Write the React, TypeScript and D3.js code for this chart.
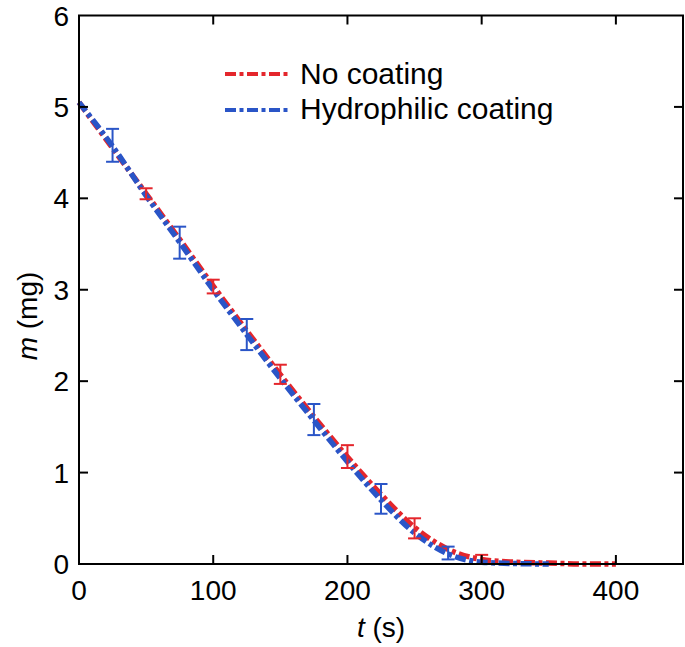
import React from "react";
import * as d3 from "d3";

const xTicks = [0, 100, 200, 300, 400];
const yTicks = [0, 1, 2, 3, 4, 5, 6];

const seriesNames = ["No coating", "Hydrophilic coating"];
const seriesColors = ["#e4262c", "#2a55c7"];

// line samples (t, m)
const redLineT = [0, 25, 50, 75, 100, 125, 150, 175, 200, 225, 250, 275, 300, 325, 350, 375, 400];
const redLineM = [5.05, 4.55, 4.05, 3.55, 3.04, 2.55, 2.07, 1.61, 1.17, 0.76, 0.40, 0.16, 0.05, 0.02, 0.01, 0.0, 0.0];
const blueLineT = [0, 25, 50, 75, 100, 125, 150, 175, 200, 225, 250, 275, 300, 325, 350];
const blueLineM = [5.05, 4.57, 4.03, 3.52, 3.0, 2.51, 2.03, 1.57, 1.12, 0.70, 0.34, 0.11, 0.02, 0.005, 0.0];

// error bars
const redErrT = [50, 100, 150, 200, 250, 300];
const redErrLo = [3.99, 2.96, 1.97, 1.05, 0.28, 0.0];
const redErrHi = [4.11, 3.11, 2.18, 1.30, 0.50, 0.10];
const blueErrT = [25, 75, 125, 175, 225, 275];
const blueErrLo = [4.40, 3.34, 2.34, 1.41, 0.55, 0.05];
const blueErrHi = [4.76, 3.69, 2.68, 1.75, 0.875, 0.19];

const W = 685, H = 647;
const L = 79, R = 683, T = 15.5, B = 564;
const font = "'Liberation Sans', Arial, Helvetica, sans-serif";

export default function App() {
  const x = d3.scaleLinear().domain([0, 450]).range([L, R]);
  const y = d3.scaleLinear().domain([0, 6]).range([B, T]);
  const line = d3.line<[number, number]>().x(d => x(d[0])).y(d => y(d[1])).curve(d3.curveMonotoneX);

  const redPts: [number, number][] = redLineT.map((t, i) => [t, redLineM[i]]);
  const bluePts: [number, number][] = blueLineT.map((t, i) => [t, blueLineM[i]]);
  const dash = "11,3.5,4,3.5";
  const tickLen = 9;
  const cap = 6.5;

  const errs = [
    { t: redErrT, lo: redErrLo, hi: redErrHi, c: seriesColors[0] },
    { t: blueErrT, lo: blueErrLo, hi: blueErrHi, c: seriesColors[1] },
  ];

  return (
    <svg width={W} height={H} style={{ position: "absolute", left: 0, top: 0, background: "#fff" }} fontFamily={font}>
      <rect x={0} y={0} width={W} height={H} fill="#fff" />
      {/* lines */}
      <path d={line(redPts) || ""} fill="none" stroke={seriesColors[0]} strokeWidth={5.5} strokeDasharray={dash} />
      <path d={line(bluePts) || ""} fill="none" stroke={seriesColors[1]} strokeWidth={5.5} strokeDasharray={dash} />
      {/* error bars */}
      {errs.map((e, k) =>
        e.t.map((t, i) => (
          <g key={`${k}-${i}`} stroke={e.c} strokeWidth={2} fill="none">
            <line x1={x(t)} x2={x(t)} y1={y(e.lo[i])} y2={y(e.hi[i])} />
            <line x1={x(t) - cap} x2={x(t) + cap} y1={y(e.lo[i])} y2={y(e.lo[i])} />
            <line x1={x(t) - cap} x2={x(t) + cap} y1={y(e.hi[i])} y2={y(e.hi[i])} />
          </g>
        ))
      )}
      {/* frame */}
      <rect x={L} y={T} width={R - L} height={B - T} fill="none" stroke="#000" strokeWidth={2} />
      {/* ticks */}
      {xTicks.filter(v => v > 0).map(v => (
        <g key={`xt${v}`} stroke="#000" strokeWidth={2}>
          <line x1={x(v)} x2={x(v)} y1={B} y2={B - tickLen} />
          <line x1={x(v)} x2={x(v)} y1={T} y2={T + tickLen} />
        </g>
      ))}
      {yTicks.filter(v => v > 0 && v < 6).map(v => (
        <g key={`yt${v}`} stroke="#000" strokeWidth={2}>
          <line x1={L} x2={L + tickLen} y1={y(v)} y2={y(v)} />
          <line x1={R} x2={R - tickLen} y1={y(v)} y2={y(v)} />
        </g>
      ))}
      {/* tick labels */}
      {xTicks.map(v => (
        <text key={`xl${v}`} x={x(v)} y={600} textAnchor="middle" fontSize={28} fill="#000">{v}</text>
      ))}
      {yTicks.map(v => (
        <text key={`yl${v}`} x={69} y={y(v)} dy="0.36em" textAnchor="end" fontSize={28} fill="#000">{v}</text>
      ))}
      {/* axis labels */}
      <text x={381} y={637} textAnchor="middle" fontSize={28} fill="#000">
        <tspan fontStyle="italic">t</tspan> (s)
      </text>
      <text transform={`translate(37,316) rotate(-90)`} textAnchor="middle" fontSize={28} fill="#000">
        <tspan fontStyle="italic">m</tspan> (mg)
      </text>
      {/* legend */}
      {seriesNames.map((n, i) => (
        <g key={n}>
          <line x1={225} x2={289} y1={74 + i * 36} y2={74 + i * 36} stroke={seriesColors[i]} strokeWidth={4} strokeDasharray={dash} />
          <text x={300} y={84 + i * 35} fontSize={30} fill="#000">{n}</text>
        </g>
      ))}
    </svg>
  );
}
